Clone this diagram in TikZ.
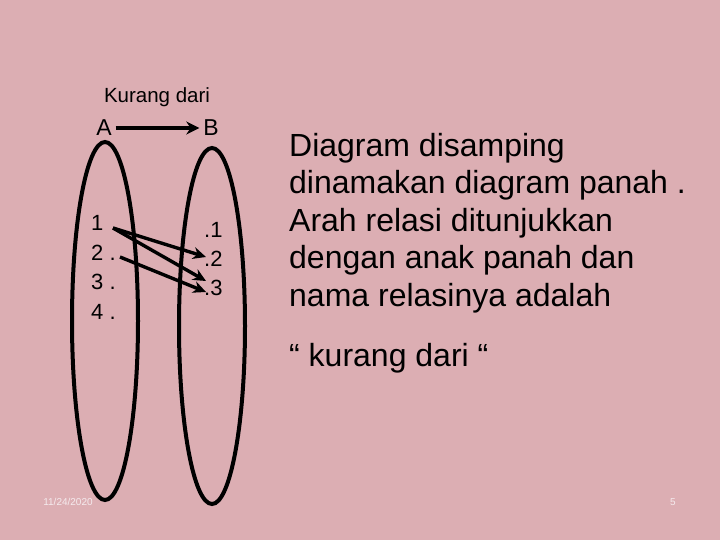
\documentclass[tikz,border=0pt]{standalone}
\usepackage{fontspec}
\setmainfont{Liberation Sans}
\usetikzlibrary{arrows.meta}
\definecolor{bgpink}{RGB}{220,174,179}
\definecolor{datecol}{RGB}{245,235,238}
\begin{document}
\begin{tikzpicture}[x=1pt,y=-1pt,
  elem/.style={font=\fontsize{22}{22}\selectfont,anchor=west,inner sep=0pt},
  relarrow/.style={line width=3.4pt,-{Stealth[length=13pt,width=12pt]}},
  body/.style={font=\fontsize{32}{37.5}\selectfont,anchor=north west,inner sep=0pt,align=left},
  foot/.style={font=\fontsize{10}{10}\selectfont,text=datecol,inner sep=0pt}]
\fill[bgpink] (0,0) rectangle (720,540);
\useasboundingbox (0,0) rectangle (720,540);
% ellipses
\draw[line width=4pt] (105,321) ellipse [x radius=33,y radius=179];
\draw[line width=4pt] (212,326) ellipse [x radius=33,y radius=178];
% title
\node[font=\fontsize{20.5}{20.5}\selectfont,inner sep=0pt] (title) at (157,97) {Kurang dari};
\node[font=\fontsize{23}{23}\selectfont,inner sep=0pt,outer sep=4pt] (A) at (104,128) {A};
\node[font=\fontsize{23}{23}\selectfont,inner sep=0pt,outer sep=4pt] (B) at (211,128) {B};
\draw[line width=3.4pt,-{Stealth[length=13pt,width=13pt]}] (A.east) -- (B.west);
% elements
\node[elem] (a1) at (91,223) {1};
\node[elem] (a2) at (91,253) {2 .};
\node[elem] (a3) at (91,282) {3 .};
\node[elem] (a4) at (91,312) {4 .};
\node[elem] (b1) at (204,230) {.1};
\node[elem] (b2) at (204,259) {.2};
\node[elem] (b3) at (204,288) {.3};
\coordinate (s1) at (113,228);
\coordinate (s2) at (120,257);
\coordinate (t2) at (206,257);
\coordinate (t3) at (206,281);
\coordinate (t3b) at (206,292);
\draw[relarrow] (s1) -- (t2);
\draw[relarrow] (s1) -- (t3);
\draw[relarrow] (s2) -- (t3b);
% text
\node[body] (txt) at (289,133) {Diagram disamping\\dinamakan diagram panah .\\Arah relasi ditunjukkan\\dengan anak panah dan\\nama relasinya adalah};
\node[body] (kd) at (289,343) {“ kurang dari “};
% footer
\node[foot] (date) at (68,502) {11/24/2020};
\node[foot] (page) at (673,502) {5};
\end{tikzpicture}
\end{document}
